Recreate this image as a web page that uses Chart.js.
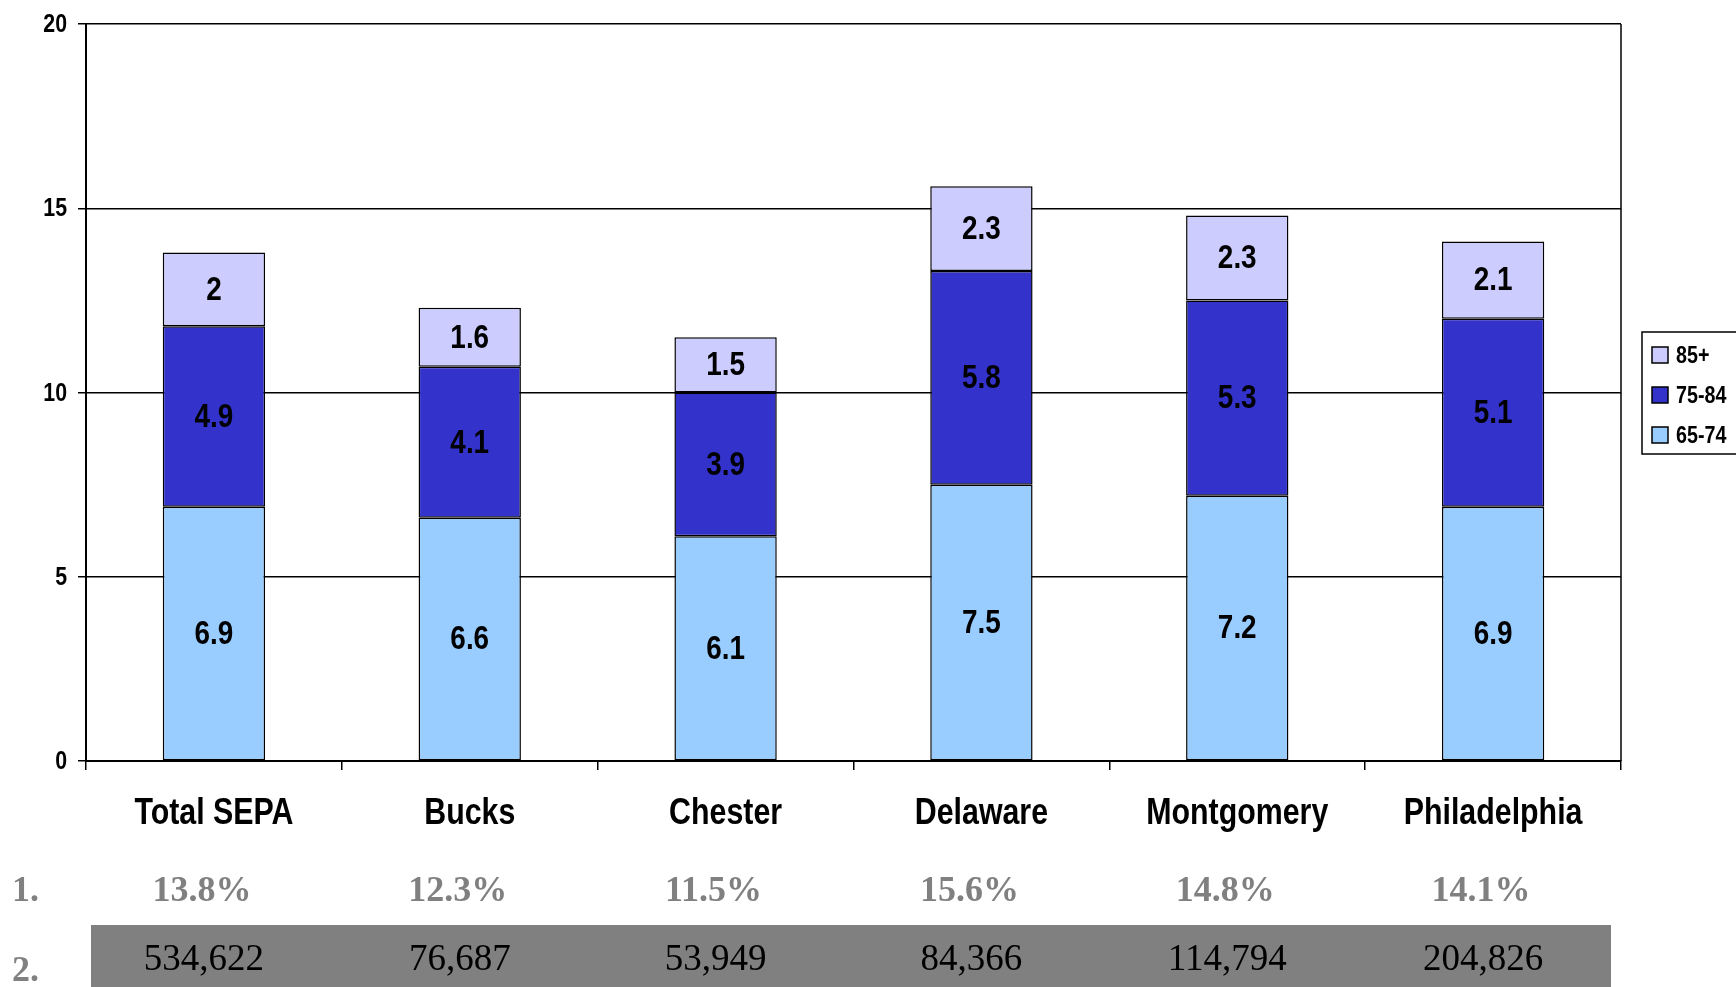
<!DOCTYPE html>
<html>
<head>
<meta charset="utf-8">
<script src="https://cdn.jsdelivr.net/npm/chart.js@4"></script>
<style>
  body { margin: 0; background: #fff; }
  #wrap { position: relative; width: 1736px; height: 987px; }
</style>
</head>
<body>
<div id="wrap"><canvas id="ageChart"></canvas></div>
<script>
// Share of population 65+ by county, split by age band
const counties = ['Total SEPA', 'Bucks', 'Chester', 'Delaware', 'Montgomery', 'Philadelphia'];
const age65to74 = [6.9, 6.6, 6.1, 7.5, 7.2, 6.9];
const age75to84 = [4.9, 4.1, 3.9, 5.8, 5.3, 5.1];
const age85plus = [2, 1.6, 1.5, 2.3, 2.3, 2.1];
const yTicks = [0, 5, 10, 15, 20];
const pctRow = ['13.8%', '12.3%', '11.5%', '15.6%', '14.8%', '14.1%'];
const countRow = ['534,622', '76,687', '53,949', '84,366', '114,794', '204,826'];

const SANS = "'Liberation Sans', Arial, sans-serif";
const SERIF = "'Liberation Serif', 'Times New Roman', serif";

// no narrow face installed, so squeeze bold sans horizontally
function narrowText(ctx, text, x, y, size, align) {
    ctx.save();
    ctx.translate(x, y);
    ctx.scale(0.82, 1);
    ctx.font = 'bold ' + size + 'px ' + SANS;
    ctx.textAlign = align;
    ctx.textBaseline = 'middle';
    ctx.fillStyle = '#000';
    ctx.fillText(text, 0, 0);
    ctx.restore();
}

// draws value labels, axis labels, the plot frame, the legend and the two table rows
const extrasPlugin = {
    id: 'extras',
    afterDatasetsDraw(chart) {
        const ctx = chart.ctx;
        const area = chart.chartArea;
        const xs = chart.scales.x;
        const ys = chart.scales.y;
        ctx.save();

        // value labels centred in each segment
        chart.data.datasets.forEach((ds, i) => {
            chart.getDatasetMeta(i).data.forEach((bar, j) => {
                narrowText(ctx, String(ds.data[j]), bar.x, (bar.y + bar.base) / 2 + 1, 34, 'center');
            });
        });

        // axis labels
        yTicks.forEach(v => narrowText(ctx, String(v), 67, ys.getPixelForValue(v) + 1, 26, 'right'));
        counties.forEach((c, j) => narrowText(ctx, c, xs.getPixelForValue(j), 814, 37, 'center'));

        // right frame line
        ctx.strokeStyle = '#000';
        ctx.lineWidth = 1.5;
        ctx.beginPath();
        ctx.moveTo(area.right, area.top);
        ctx.lineTo(area.right, area.bottom);
        ctx.stroke();

        // legend (top item = 85+)
        const lx = 1642, ly = 332;
        ctx.strokeRect(lx, ly, 110, 122);
        const legendOrder = [2, 1, 0];
        legendOrder.forEach((di, k) => {
            const ds = chart.data.datasets[di];
            const cy = 355 + k * 40;
            ctx.fillStyle = ds.backgroundColor;
            ctx.fillRect(lx + 10, cy - 8, 16, 16);
            ctx.strokeRect(lx + 10, cy - 8, 16, 16);
            narrowText(ctx, ds.label, lx + 34, cy + 1, 24, 'left');
        });

        // table rows under the chart
        ctx.fillStyle = '#808080';
        ctx.fillRect(91, 925, 1520, 62);

        ctx.textBaseline = 'middle';
        ctx.font = 'bold 36px ' + SERIF;
        ctx.fillStyle = '#808080';
        ctx.textAlign = 'left';
        ctx.fillText('1.', 12, 892);
        ctx.fillText('2.', 12, 972);

        ctx.textAlign = 'center';
        pctRow.forEach((t, j) => {
            ctx.fillStyle = '#808080';
            ctx.font = 'bold 36px ' + SERIF;
            ctx.fillText(t, xs.getPixelForValue(j) - 12, 892);
        });
        countRow.forEach((t, j) => {
            ctx.fillStyle = '#000';
            ctx.font = '37px ' + SERIF;
            ctx.fillText(t, xs.getPixelForValue(j) - 10, 960);
        });
        ctx.restore();
    }
};

const ctx = document.getElementById('ageChart').getContext('2d');
new Chart(ctx, {
    type: 'bar',
    data: {
        labels: counties,
        datasets: [
            { label: '65-74', data: age65to74, backgroundColor: '#99CCFF' },
            { label: '75-84', data: age75to84, backgroundColor: '#3333CC' },
            { label: '85+', data: age85plus, backgroundColor: '#CCCCFF' }
        ].map(d => Object.assign(d, {
            borderColor: '#000',
            borderWidth: 1.5,
            borderSkipped: false,
            categoryPercentage: 1,
            barPercentage: 0.4
        }))
    },
    options: {
        responsive: true,
        maintainAspectRatio: false,
        animation: false,
        layout: { padding: { top: 24, right: 115, bottom: 0, left: 0 } },
        scales: {
            x: {
                stacked: true,
                afterFit(scale) { scale.height = 226; },
                grid: {
                    offset: true,
                    drawOnChartArea: false,
                    drawTicks: true,
                    tickLength: 9,
                    color: '#000',
                    lineWidth: 1.5
                },
                border: { display: true, color: '#000', width: 2 },
                ticks: { display: false }
            },
            y: {
                stacked: true,
                min: 0,
                max: 20,
                afterFit(scale) { scale.width = 86; },
                afterBuildTicks(scale) { scale.ticks = yTicks.map(v => ({ value: v })); },
                grid: {
                    color: '#000',
                    lineWidth: 1.5,
                    drawTicks: true,
                    tickLength: 8
                },
                border: { display: true, color: '#000', width: 2 },
                ticks: { display: false }
            }
        },
        plugins: {
            legend: { display: false },
            tooltip: { enabled: false }
        }
    },
    plugins: [extrasPlugin]
});
</script>
</body>
</html>
